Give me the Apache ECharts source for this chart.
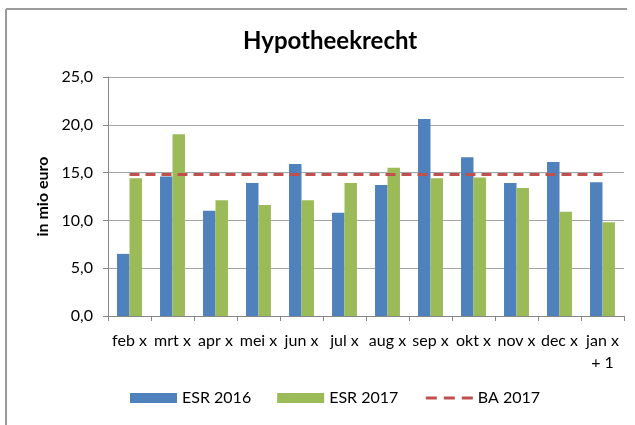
<!DOCTYPE html>
<html>
<head>
<meta charset="utf-8">
<title>Hypotheekrecht</title>
<script src="https://cdn.jsdelivr.net/npm/echarts@6/dist/echarts.min.js"></script>
<style>
  html, body { margin: 0; padding: 0; background: #ffffff; }
  #chart { width: 635px; height: 425px; }
</style>
</head>
<body>
<div id="chart"></div>
<script>
// Monthly mortgage-right revenue, in millions of euro
const categories = ['feb x', 'mrt x', 'apr x', 'mei x', 'jun x', 'jul x', 'aug x', 'sep x', 'okt x', 'nov x', 'dec x', 'jan x\n+ 1'];
const esr2016 = [6.5, 14.6, 11.0, 13.9, 15.9, 10.8, 13.7, 20.6, 16.6, 13.9, 16.1, 14.0];
const esr2017 = [14.4, 19.0, 12.1, 11.6, 12.1, 13.9, 15.5, 14.4, 14.5, 13.4, 10.9, 9.8];
const ba2017 = [14.8, 14.8, 14.8, 14.8, 14.8, 14.8, 14.8, 14.8, 14.8, 14.8, 14.8, 14.8];
const yTicks = [0, 5, 10, 15, 20, 25];

const FONT = 'Lato, "Open Sans", sans-serif';
const chart = echarts.init(document.getElementById('chart'), null, { renderer: 'canvas' });

chart.setOption({
  backgroundColor: '#ffffff',
  animation: false,
  textStyle: { fontFamily: FONT, color: '#000000' },
  graphic: [
    // frame lines along the top and left edge of the chart area
    { type: 'line', shape: { x1: 6, y1: 9, x2: 627, y2: 9 }, style: { stroke: '#9a9a9a', lineWidth: 2 } },
    { type: 'line', shape: { x1: 6, y1: 9, x2: 6, y2: 425 }, style: { stroke: '#9a9a9a', lineWidth: 2 } }
  ],
  title: {
    text: 'Hypotheekrecht',
    left: 238,
    top: 24,
    textStyle: { fontFamily: FONT, fontWeight: 'bold', fontSize: 24, color: '#000000' }
  },
  legend: {
    bottom: 14,
    left: 125,
    itemWidth: 47,
    itemHeight: 10,
    itemGap: 26,
    textStyle: { fontFamily: FONT, fontSize: 16, color: '#000000' },
    data: [
      { name: 'ESR 2016', icon: 'rect' },
      { name: 'ESR 2017', icon: 'rect' },
      { name: 'BA 2017', itemStyle: { opacity: 0 }, lineStyle: { type: [11, 7], width: 3 } }
    ]
  },
  grid: { left: 108, right: 11, top: 77, bottom: 109, containLabel: false },
  xAxis: {
    type: 'category',
    data: categories,
    boundaryGap: true,
    axisLine: { lineStyle: { color: '#868686', width: 1 } },
    axisTick: { show: true, length: 5, inside: false, alignWithLabel: false, lineStyle: { color: '#868686' } },
    axisLabel: { fontFamily: FONT, fontSize: 16, color: '#000000', margin: 14, interval: 0, lineHeight: 22 }
  },
  yAxis: {
    type: 'value',
    min: yTicks[0],
    max: yTicks[yTicks.length - 1],
    interval: 5,
    name: 'in mio euro',
    nameLocation: 'middle',
    nameGap: 57,
    nameRotate: 90,
    nameTextStyle: { fontFamily: FONT, fontWeight: 'bold', fontSize: 16, color: '#000000' },
    axisLine: { show: true, lineStyle: { color: '#868686', width: 1 } },
    axisTick: { show: true, length: 5, inside: false, lineStyle: { color: '#868686' } },
    axisLabel: {
      fontFamily: FONT, fontSize: 16, color: '#000000', margin: 15,
      formatter: v => v.toFixed(1).replace('.', ',')
    },
    splitLine: { show: true, lineStyle: { color: '#a6a6a6', width: 1 } }
  },
  series: [
    {
      name: 'ESR 2016',
      type: 'bar',
      data: esr2016,
      barGap: '0%',
      barCategoryGap: '42%',
      itemStyle: { color: '#4F81BD' }
    },
    {
      name: 'ESR 2017',
      type: 'bar',
      data: esr2017,
      barGap: '0%',
      barCategoryGap: '42%',
      itemStyle: { color: '#9BBB59' }
    },
    {
      name: 'BA 2017',
      type: 'line',
      data: ba2017,
      symbol: 'none',
      z: 5,
      lineStyle: { color: '#C0504D', width: 3, type: [10, 6] },
      itemStyle: { color: '#C0504D' }
    }
  ]
});
</script>
</body>
</html>
